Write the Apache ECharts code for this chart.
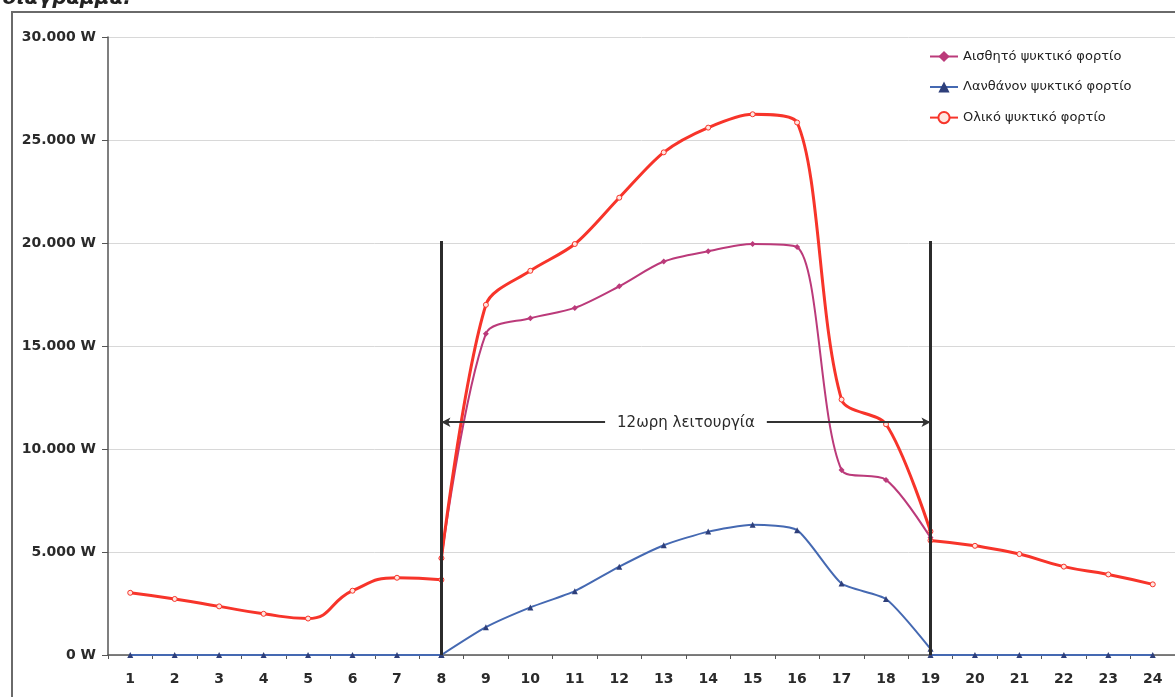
<!DOCTYPE html>
<html>
<head>
<meta charset="utf-8">
<script src="https://cdn.jsdelivr.net/npm/echarts@6/dist/echarts.min.js"></script>
<style>
html,body{margin:0;padding:0;background:#fff;}
#c{width:1175px;height:697px;}
</style>
</head>
<body>
<div id="c"></div>
<script>
// ---- data ----
const hours = ['1','2','3','4','5','6','7','8','9','10','11','12','13','14','15','16','17','18','19','20','21','22','23','24'];

const seriesNames = ['Αισθητό ψυκτικό φορτίο', 'Λανθάνον ψυκτικό φορτίο', 'Ολικό ψυκτικό φορτίο'];

// operating hours 8..19
const sensibleOperating = [4700, 15600, 16350, 16850, 17900, 19100, 19600, 19950, 19800, 8980, 8500, 5700];
const latentOperating   = [0, 1350, 2310, 3100, 4290, 5330, 5990, 6320, 6060, 3470, 2720, 300];
const totalOperating    = [4700, 17000, 18650, 19950, 22200, 24400, 25600, 26250, 25850, 12400, 11200, 6000];

// off hours: 1..8 and 19..24
const latentMorning = [0, 0, 0, 0, 0, 0, 0, 0];
const latentEvening = [0, 0, 0, 0, 0, 0];
const totalMorning  = [3020, 2720, 2360, 2000, 1770, 3120, 3750, 3650];
const totalEvening  = [5560, 5300, 4900, 4290, 3910, 3430];

const opStart = '8', opEnd = '19';
const annotationLevel = 11300;
const markerTop = 20100;
const annotationText = '12ωρη λειτουργία';
const captionText = 'διάγραμμα.';

// ---- helpers ----
function place(startHour, values) {
  const out = hours.map(() => null);
  const s = hours.indexOf(startHour);
  values.forEach((v, i) => { out[s + i] = v; });
  return out;
}
const fmt = v => (v === 0 ? '0' : (v / 1000).toFixed(3)) + ' W';

const RED = '#f7342a', MAG = '#bb3a7a', BLUE = '#4569b2';
const font = 'DejaVu Sans';

const redSeries = (data, sm) => ({
  name: seriesNames[2], type: 'line', data: data, smooth: sm,
  symbol: 'circle', symbolSize: 5, showSymbol: true,
  lineStyle: { color: RED, width: 3 },
  itemStyle: { color: '#ffe6e0', borderColor: RED, borderWidth: 1 },
  z: 4
});
const blueSeries = (data) => ({
  name: seriesNames[1], type: 'line', data: data, smooth: 0.2,
  symbol: 'triangle', symbolSize: 6,
  lineStyle: { color: BLUE, width: 2 },
  itemStyle: { color: '#2e3f7a' },
  z: 3
});

const chart = echarts.init(document.getElementById('c'), null, { renderer: 'canvas' });
chart.setOption({
  animation: false,
  backgroundColor: '#ffffff',
  textStyle: { fontFamily: font },
  graphic: [
    { type: 'rect', shape: { x: 12, y: 12, width: 1220, height: 720 },
      style: { fill: 'none', stroke: '#6a6a6a', lineWidth: 2 }, z: -1 },
    { type: 'text', style: { text: captionText, x: 3, y: 9, verticalAlign: 'bottom',
      font: 'italic bold 20px "DejaVu Sans"', fill: '#222' } }
  ],
  grid: { left: 108, top: 37, width: 1069, height: 618, containLabel: false },
  legend: {
    data: seriesNames, orient: 'vertical', left: 929, top: 50, padding: 0,
    itemWidth: 28, itemHeight: 14, itemGap: 17.5,
    textStyle: { fontSize: 13, color: '#222', fontFamily: font }
  },
  xAxis: {
    type: 'category', data: hours, boundaryGap: true,
    axisLine: { show: true, lineStyle: { color: '#555', width: 1.5 } },
    axisTick: { show: true, length: 4, lineStyle: { color: '#555' } },
    axisLabel: { fontSize: 14, fontWeight: 'bold', color: '#2a2a2a', margin: 17, fontFamily: font },
    splitLine: { show: false }
  },
  yAxis: {
    type: 'value', min: 0, max: 30000, interval: 5000,
    axisLine: { show: true, lineStyle: { color: '#555', width: 1.5 } },
    axisTick: { show: true, length: 6, lineStyle: { color: '#555' } },
    axisLabel: { formatter: fmt, fontSize: 14, fontWeight: 'bold', color: '#2a2a2a', margin: 12, fontFamily: font },
    splitLine: { show: true, lineStyle: { color: '#d8d8d8', width: 1 } }
  },
  series: [
    {
      name: seriesNames[0], type: 'line', data: place(opStart, sensibleOperating), smooth: 0.3,
      symbol: 'diamond', symbolSize: 6,
      lineStyle: { color: MAG, width: 2 },
      itemStyle: { color: MAG },
      z: 2
    },
    blueSeries(place('1', latentMorning)),
    blueSeries(place(opStart, latentOperating)),
    blueSeries(place(opEnd, latentEvening)),
    redSeries(place('1', totalMorning), 0.5),
    redSeries(place(opStart, totalOperating), 0.3),
    redSeries(place(opEnd, totalEvening), 0.5),
    {
      name: 'annotation', type: 'line', data: hours.map(() => null), z: 10,
      markLine: {
        silent: true, animation: false, symbol: 'none',
        lineStyle: { color: '#2b2b2b', width: 3, type: 'solid' },
        label: { show: false },
        data: [
          [{ coord: [opStart, 0] }, { coord: [opStart, markerTop] }],
          [{ coord: [opEnd, 0] }, { coord: [opEnd, markerTop] }],
          [
            { coord: [opStart, annotationLevel], symbol: 'arrow', symbolSize: [7, 9],
              lineStyle: { color: '#333', width: 2 },
              label: { show: true, position: 'middle', formatter: annotationText,
                distance: 0, offset: [0, 11],
                fontSize: 15, color: '#2a2a2a', fontFamily: font,
                backgroundColor: '#ffffff', padding: [3, 12, 3, 12] } },
            { coord: [opEnd, annotationLevel], symbol: 'arrow', symbolSize: [7, 9] }
          ]
        ]
      }
    }
  ]
});
</script>
</body>
</html>
